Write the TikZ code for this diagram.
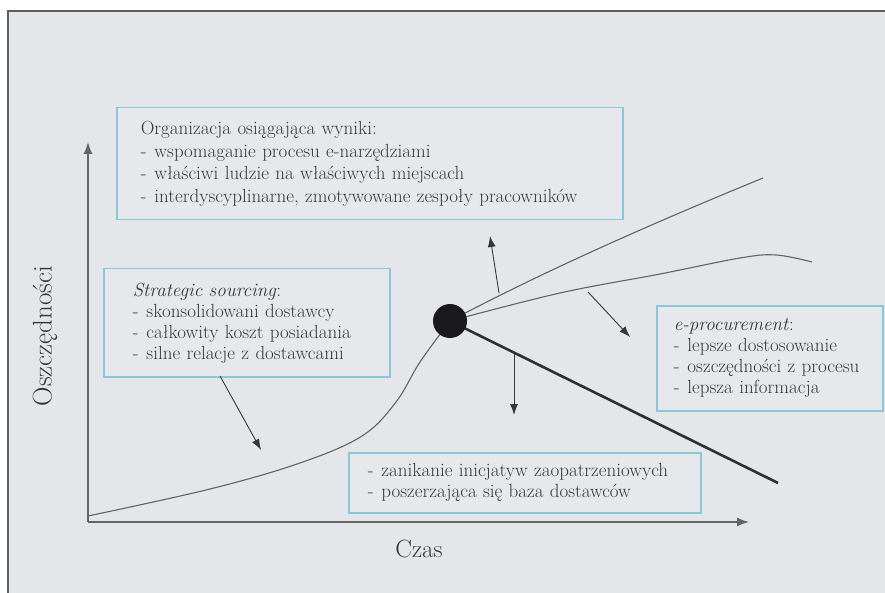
\documentclass[tikz,border=0pt]{standalone}
\usepackage{tikz}
\usetikzlibrary{arrows.meta}
\definecolor{bgray}{RGB}{228,230,234}
\definecolor{boxfill}{RGB}{231,232,235}
\definecolor{frameline}{RGB}{95,95,95}
\definecolor{boxblue}{RGB}{140,198,218}
\definecolor{inkgray}{RGB}{55,55,55}
\definecolor{curvegray}{RGB}{100,100,100}
\definecolor{dotblack}{RGB}{25,25,28}
\newcommand{\myitem}{-\hspace{8pt}}

\begin{document}
\begin{tikzpicture}[x=1pt,y=-1pt,
	infobox/.style={draw=boxblue, line width=1.5pt, fill=boxfill, anchor=north west, align=left, text=inkgray, inner ysep=0pt, font=\fontsize{19}{21}\selectfont},
	curve/.style={draw=curvegray, line width=1.1pt},
	axis/.style={draw=curvegray, line width=1.4pt, -{Latex[length=12pt,width=9pt]}},
	pointer/.style={draw=inkgray, line width=0.9pt, -{Latex[length=11pt,width=8pt]}}]
			%%%%% FRAME %%%%%
			\useasboundingbox (0,0) rectangle (885,593);
			\fill[white] (0,0) rectangle (885,593);
			\fill[bgray] (8,11) rectangle (885,593);
			\draw[frameline, line width=2.2pt] (8,593) -- (8,11) -- (885,11);
			
			%%%%% AXES %%%%%
			\coordinate (orig) at (88,522);
			\coordinate (ytip) at (88,142);
			\coordinate (xtip) at (749,522);
			\draw[axis] (orig) -- (ytip);
			\draw[axis] (orig) -- (xtip);
			\node[rotate=90, text=inkgray, font=\fontsize{27}{30}\selectfont] (ylab) at (45,336) {Oszczędności};
			\node[text=inkgray, font=\fontsize{25}{28}\selectfont] (xlab) at (419,549) {Czas};
			
			%%%%% CURVES %%%%%
			\coordinate (hub) at (450,321);
			\coordinate (start) at (88,516);
			\coordinate (upend) at (763,178);
			\coordinate (midend) at (812,262);
			\coordinate (lowend) at (778,483);
			\draw[curve] plot[smooth, tension=0.6] coordinates {(start) (210,489) (300,463) (362,436) (396,402) (420,362) (hub)};
			\draw[curve] (hub) .. controls (550,268) and (663,219) .. (upend);
			\draw[curve] plot[smooth, tension=0.6] coordinates {(hub) (560,293) (660,274) (740,258) (776,255) (midend)};
			\draw[line width=2.6pt, color=dotblack!90] (hub) -- (lowend);
			\node[circle, fill=dotblack, minimum size=34pt, inner sep=0pt] (dot) at (hub) {};
			
			%%%%% BOXES %%%%%
			\node[infobox, minimum width=506pt, minimum height=112pt, inner xsep=24pt, text width=458pt, font=\fontsize{19}{22.5}\selectfont] (orgbox) at (116,107)
				{Organizacja osiągająca wyniki:\\ \myitem wspomaganie procesu e-narzędziami\\ \myitem właściwi ludzie na właściwych miejscach\\ \myitem interdyscyplinarne, zmotywowane zespoły pracowników};
			\node[infobox, minimum width=286pt, minimum height=108pt, inner xsep=29pt, text width=228pt] (strbox) at (103,268)
				{\textit{Strategic sourcing}:\\ \myitem skonsolidowani dostawcy\\ \myitem całkowity koszt posiadania\\ \myitem silne relacje z dostawcami};
			\node[infobox, minimum width=226pt, minimum height=105pt, inner xsep=17pt, text width=192pt] (procbox) at (656,305)
				{\textit{e-procurement}:\\ \myitem lepsze dostosowanie\\ \myitem oszczędności z procesu\\ \myitem lepsza informacja};
			\node[infobox, minimum width=352pt, minimum height=60pt, inner xsep=19pt, text width=314pt] (endbox) at (348,452)
				{\myitem zanikanie inicjatyw zaopatrzeniowych\\ \myitem poszerzająca się baza dostawców};
			
			%%%%% POINTERS %%%%%
			\coordinate (upfrom) at (499,293);
			\coordinate (upto) at (490,236);
			\coordinate (procfrom) at (588,292);
			\coordinate (procto) at (630,337);
			\coordinate (downfrom) at (514,353);
			\coordinate (downto) at (514,415);
			\coordinate (strfrom) at (220,376);
			\coordinate (strto) at (261,450);
			\draw[pointer] (upfrom) -- (upto);
			\draw[pointer] (procfrom) -- (procto);
			\draw[pointer] (downfrom) -- (downto);
			\draw[pointer] (strfrom) -- (strto);
\end{tikzpicture}
\end{document}
